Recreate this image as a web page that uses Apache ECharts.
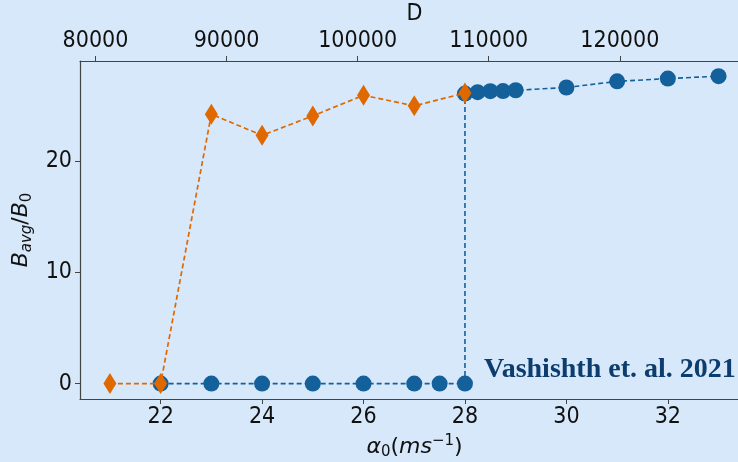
<html>
  <head>
    <script src="https://cdn.jsdelivr.net/npm/echarts@6.0.0/dist/echarts.min.js"></script>
    <title>Bavg / B0 vs alpha0</title>
  </head>
  <body style="margin:0; background-color:#d7e8fa;">
    <div id="chart" style="width:738px; height:462px;"></div>
    <script>
      // orange diamonds
      const alphaOrange = [21, 22, 23, 24, 25, 26, 27, 28];
      const bOrange = [0, 0, 24.2, 22.3, 24.05, 25.9, 24.95, 26.1];
      // blue circles
      const alphaBlue = [22, 23, 24, 25, 26, 27, 27.5, 28, 28, 28.25, 28.5, 28.75, 29, 30, 31, 32, 33];
      const bBlue = [0, 0, 0, 0, 0, 0, 0, 0, 26.05, 26.18, 26.27, 26.28, 26.35, 26.6, 27.15, 27.4, 27.62];

      const xTicks = [22, 24, 26, 28, 30, 32];
      const yTicks = [0, 10, 20];
      const dTicks = [80000, 90000, 100000, 110000, 120000];

      const bgColor = '#d7e8fa';
      const axisColor = '#444';
      const tickFont = 'DejaVu Sans Condensed, DejaVu Sans';
      const orange = '#e06800';
      const blue = '#13609a';

      const zip = (xs, ys) => xs.map((x, i) => [x, ys[i]]);

      const mathRich = {
        i: { fontFamily: 'DejaVu Sans', fontStyle: 'italic', fontSize: 22, lineHeight: 26, color: '#111' },
        n: { fontFamily: 'DejaVu Sans', fontSize: 22, lineHeight: 26, color: '#111' },
        si: { fontFamily: 'DejaVu Sans', fontStyle: 'italic', fontSize: 15, lineHeight: 15, verticalAlign: 'bottom', color: '#111' },
        sn: { fontFamily: 'DejaVu Sans', fontSize: 15, lineHeight: 15, verticalAlign: 'bottom', color: '#111' },
        sup: { fontFamily: 'DejaVu Sans', fontSize: 15, lineHeight: 15, verticalAlign: 'top', color: '#111' }
      };

      const chart = echarts.init(document.getElementById('chart'));

      const option = {
        backgroundColor: bgColor,
        animation: false,
        grid: { left: 80, top: 61, right: -11, bottom: 63, containLabel: false, outerBoundsMode: 'none' },
        xAxis: [
          {
            type: 'value',
            min: 20.41,
            max: 33.6,
            position: 'bottom',
            name: '{i|α}{sn|0}{n|(}{i|ms}{sup|−1}{n|)}',
            nameLocation: 'middle',
            nameGap: 34,
            nameTextStyle: { rich: mathRich },
            axisLine: { onZero: false, lineStyle: { color: axisColor, width: 1.2 } },
            axisTick: { show: true, length: 5, customValues: xTicks, lineStyle: { color: axisColor } },
            axisLabel: { customValues: xTicks, fontFamily: tickFont, fontSize: 23, color: '#111', margin: 7 },
            splitLine: { show: false }
          },
          {
            type: 'value',
            min: 78817,
            max: 129855,
            position: 'top',
            name: 'D',
            nameLocation: 'middle',
            nameGap: 27,
            nameTextStyle: { fontFamily: tickFont, fontSize: 23, color: '#111' },
            axisLine: { show: true, onZero: false, lineStyle: { color: axisColor, width: 1.2 } },
            axisTick: { show: true, length: 5, customValues: dTicks, lineStyle: { color: axisColor } },
            axisLabel: { customValues: dTicks, formatter: v => String(v), fontFamily: tickFont, fontSize: 23, color: '#111', margin: 8 },
            splitLine: { show: false }
          }
        ],
        yAxis: {
          type: 'value',
          min: -1.385,
          max: 28.98,
          name: '{i|B}{si|avg}{n|/}{i|B}{sn|0}',
          nameLocation: 'middle',
          nameRotate: 90,
          nameGap: 37,
          nameTextStyle: { rich: mathRich },
          axisLine: { show: true, onZero: false, lineStyle: { color: axisColor, width: 1.2 } },
          axisTick: { show: true, length: 5, customValues: yTicks, lineStyle: { color: axisColor } },
          axisLabel: { customValues: yTicks, fontFamily: tickFont, fontSize: 23, color: '#111', margin: 8 },
          splitLine: { show: false }
        },
        series: [
          {
            type: 'line',
            data: zip(alphaBlue, bBlue),
            symbol: 'circle',
            symbolSize: 16,
            itemStyle: { color: blue },
            lineStyle: { color: blue, width: 1.6, type: [5, 3] },
            z: 2
          },
          {
            type: 'line',
            data: zip(alphaOrange, bOrange),
            symbol: 'diamond',
            symbolSize: [13, 21],
            itemStyle: { color: orange },
            lineStyle: { color: orange, width: 1.7, type: [5, 3] },
            z: 3
          }
        ],
        graphic: [
          {
            type: 'text',
            left: 484,
            top: 356,
            style: {
              text: 'Vashishth et. al. 2021',
              fontFamily: 'Liberation Serif',
              fontWeight: 'bold',
              fontSize: 28,
              fill: '#0c3d6e'
            }
          }
        ]
      };

      chart.setOption(option);
    </script>
  </body>
</html>
